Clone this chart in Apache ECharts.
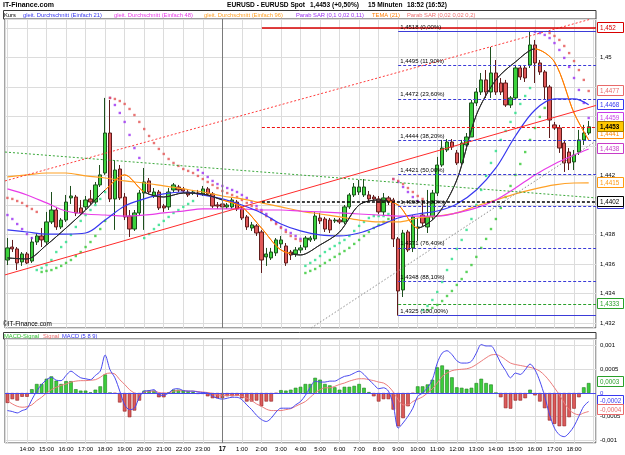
<!DOCTYPE html>
<html><head><meta charset="utf-8">
<script src="https://cdn.jsdelivr.net/npm/echarts@6.0.0/dist/echarts.min.js"></script>
<style>html,body{margin:0;padding:0;background:#fff;}#chart{width:625px;height:455px;}</style>
</head><body><div id="chart"></div>
<script>
// ---------------- data ----------------
const startMinutes = 13 * 60;      // first candle 13:00
const candleMinutes = 15;
const candleCount = 120;
const dayLabel = '17';

// [open, close, low, high]
const candles = [
[1.43627,1.43709,1.43593,1.43776],[1.43715,1.43702,1.43681,1.43763],[1.43702,1.43607,1.43559,1.43715],[1.43614,1.43668,1.43587,1.43681],
[1.43668,1.43607,1.436,1.43681],[1.4362,1.43749,1.43607,1.43783],[1.43749,1.4379,1.43729,1.4381],[1.4379,1.43763,1.43715,1.43844],
[1.43749,1.43885,1.43729,1.43953],[1.43885,1.43966,1.43871,1.44088],[1.43966,1.43851,1.43831,1.43987],[1.43851,1.43898,1.43837,1.43912],
[1.43898,1.4402,1.43885,1.44068],[1.44048,1.44061,1.44007,1.44129],[1.44054,1.43946,1.43925,1.44068],[1.4398,1.43946,1.43932,1.44034],
[1.43987,1.44034,1.43966,1.44061],[1.44041,1.4402,1.44,1.44102],[1.4402,1.44136,1.44007,1.44156],[1.44136,1.44204,1.44122,1.44271],
[1.44217,1.44488,1.44204,1.44726],[1.44488,1.44041,1.4402,1.44712],[1.44041,1.44237,1.43831,1.44305],[1.44244,1.44048,1.44034,1.44271],
[1.44054,1.43919,1.43898,1.44081],[1.43925,1.43837,1.43783,1.43966],[1.43837,1.43946,1.43824,1.43966],[1.43946,1.44081,1.43932,1.44102],
[1.44081,1.44156,1.43831,1.44251],[1.44163,1.44088,1.44075,1.44183],[1.44061,1.44088,1.44048,1.44115],[1.44088,1.4398,1.43966,1.44102],
[1.43993,1.4398,1.43953,1.44007],[1.43987,1.44088,1.43966,1.44115],[1.44102,1.44136,1.44088,1.44149],[1.44122,1.44102,1.44088,1.44136],
[1.44109,1.44095,1.44081,1.44122],[1.44088,1.44068,1.44054,1.44102],[1.44081,1.44088,1.44068,1.44102],[1.44081,1.44075,1.44054,1.44102],
[1.44075,1.44109,1.44061,1.44129],[1.44109,1.44075,1.44061,1.44122],[1.44075,1.43993,1.4398,1.44088],[1.44,1.43993,1.43973,1.4402],
[1.44007,1.43987,1.43973,1.4402],[1.43987,1.44,1.43973,1.44014],[1.43987,1.44034,1.43973,1.44048],[1.4402,1.43973,1.43959,1.44034],
[1.43973,1.43912,1.43898,1.43987],[1.43919,1.43851,1.43831,1.43932],[1.43844,1.43865,1.43824,1.43885],[1.43858,1.4381,1.4379,1.43871],
[1.43817,1.43627,1.43539,1.43831],[1.43648,1.43668,1.43587,1.43709],[1.43641,1.43681,1.43627,1.43709],[1.43675,1.43763,1.43654,1.43776],
[1.43736,1.43763,1.43709,1.4379],[1.43722,1.43607,1.43587,1.43742],[1.43681,1.43661,1.43627,1.43695],[1.43668,1.43695,1.43648,1.43715],
[1.43695,1.43709,1.43675,1.43729],[1.43715,1.43776,1.43695,1.4379],[1.43763,1.43776,1.43749,1.4379],[1.4377,1.43925,1.43756,1.43953],
[1.43912,1.43892,1.43871,1.43946],[1.43905,1.43837,1.43817,1.43919],[1.43898,1.43831,1.4381,1.43912],[1.43892,1.43898,1.43878,1.43912],
[1.43898,1.43885,1.43871,1.43912],[1.43885,1.43987,1.43871,1.44],[1.43987,1.44068,1.43973,1.44081],[1.44068,1.44122,1.44054,1.44149],
[1.44088,1.44122,1.44068,1.4417],[1.44068,1.44122,1.44054,1.44176],[1.44068,1.44041,1.44027,1.44095],[1.44054,1.44041,1.44027,1.44068],
[1.44041,1.43953,1.43939,1.44061],[1.43953,1.44048,1.43932,1.44081],[1.44048,1.44027,1.44,1.44061],[1.44034,1.4377,1.43715,1.44048],
[1.4377,1.43417,1.4325,1.43783],[1.43424,1.4381,1.43376,1.43831],[1.43817,1.43695,1.43681,1.43831],[1.43709,1.43919,1.43681,1.43932],
[1.43844,1.43851,1.43756,1.43912],[1.43932,1.43878,1.43858,1.44034],[1.43851,1.43919,1.4381,1.44102],[1.43919,1.44081,1.43898,1.44102],
[1.44081,1.44271,1.44061,1.44326],[1.44271,1.44386,1.44258,1.44441],[1.44373,1.44427,1.44359,1.44447],[1.44427,1.44393,1.44373,1.44447],
[1.44353,1.44285,1.44271,1.44373],[1.44285,1.4442,1.44271,1.44441],[1.44407,1.44461,1.44393,1.44488],[1.44461,1.44692,1.44461,1.44712],
[1.44692,1.44766,1.44671,1.44793],[1.44766,1.44848,1.44746,1.44895],[1.44848,1.44766,1.44726,1.44915],[1.44766,1.44895,1.44726,1.45071],
[1.44895,1.44766,1.44746,1.44983],[1.44827,1.44766,1.44746,1.44861],[1.44827,1.44678,1.44665,1.44848],[1.44678,1.44726,1.44658,1.44739],
[1.44726,1.44929,1.44712,1.44949],[1.44929,1.44868,1.44848,1.44949],[1.44929,1.44861,1.44834,1.44943],[1.44949,1.45085,1.44929,1.4518],
[1.45085,1.44963,1.44827,1.45119],[1.44963,1.44902,1.44882,1.44983],[1.44902,1.448,1.44712,1.44915],[1.448,1.44576,1.44454,1.44814],
[1.44543,1.44522,1.44509,1.44563],[1.44522,1.44386,1.44353,1.44543],[1.4442,1.44285,1.44224,1.44441],[1.44359,1.44285,1.44237,1.44386],
[1.44292,1.44339,1.44237,1.44373],[1.44359,1.44441,1.44339,1.44509],[1.44441,1.44488,1.44407,1.44543],[1.44488,1.4453,1.44475,1.4457]
];

// Parabolic SAR (0,1 0,02 0,11)
const sar1 = [1.43932,1.43905,1.43871,1.43837,1.43803,1.43776,
1.43559,1.43573,1.43593,1.43627,1.43681,1.43715,1.43749,1.43797,1.43851,1.43892,1.43932,1.43966,1.44,1.44041,1.44088,
1.44726,1.44678,1.44624,1.44563,1.44475,1.44386,1.44319,
1.43776,1.43803,1.43837,1.43865,1.43892,1.43919,1.43946,1.43966,1.43987,1.44007,1.44027,
1.44237,1.44217,1.4419,1.44163,1.44142,1.44129,1.44115,1.44102,1.44088,1.44068,1.44048,1.4402,1.43993,1.43966,1.43939,1.43905,1.43878,1.43851,1.43831,1.4381,1.4379,1.4377,
1.43587,1.43607,1.43627,1.43654,1.43681,1.43702,1.43722,1.43742,1.43763,1.4379,1.43824,1.43858,1.43885,1.43912,1.43925,1.43925,1.43925,1.43939,
1.44176,1.44156,1.44122,1.44088,1.44054,1.44027,
1.43288,1.43315,1.43356,1.4341,1.43478,1.43559,1.43634,1.43702,1.43763,1.43831,1.43905,1.44,1.44102,1.44197,1.44285,1.44366,1.44441,1.44502,1.44563,1.44624,1.44685,1.44739,1.44793,
1.45173,1.45166,1.45153,1.45132,1.45098,1.45051,1.44997,1.44936,1.44861,1.4478,1.44692,1.4459];

// Parabolic SAR (0,02 0,02 0,2)
const sar2 = [1.44048,1.44041,1.44027,1.44014,1.43993,1.43973,1.43953,
1.43546,1.43553,1.43559,1.43573,1.43587,1.43607,1.43627,1.43654,1.43681,1.43715,1.43749,1.4379,1.43837,1.43892,
1.44726,1.44719,1.44705,1.44685,1.44651,1.4461,1.44563,1.44515,1.44468,1.4442,1.4438,1.44346,1.44312,1.44285,1.44265,1.44244,1.44231,1.44217,1.44197,1.44176,
1.44156,1.44136,1.44115,1.44095,1.44081,1.44068,1.44054,1.44034,1.44014,1.43993,1.43973,1.43953,1.43925,1.43898,1.43871,1.43844,1.43817,1.4379,1.4377,1.43756,
1.43539,1.43553,1.43566,1.43587,1.43607,1.43627,1.43648,1.43668,1.43688,1.43709,1.43736,1.43763,1.4379,1.43817,1.43844,1.43865,1.43885,1.43905,
1.44176,1.44163,1.44142,1.44115,1.44088,1.44061,1.44041,
1.43288,1.43302,1.43322,1.43349,1.43383,1.43417,1.43458,1.43498,1.43546,1.43593,1.43648,1.43709,1.4377,1.43837,1.43905,1.4398,1.44054,1.44129,1.44204,1.44278,1.44359,1.44441,1.44522,1.44597,1.44658,
1.45166,1.45146,1.45119,1.45078,1.4503,1.44976,1.44915,1.44848,1.44773];

// moving averages, read at these candle indices
const maIdx = [0,4,8,12,16,20,24,28,32,36,40,44,48,52,56,60,64,68,72,76,80,84,88,92,96,100,104,108,112,116,119];
const sma21 = [1.43831,1.43817,1.43803,1.43803,1.4381,1.43898,1.43993,1.44041,1.44075,1.44088,1.44068,1.44041,1.44,1.43946,1.43871,1.43824,1.43797,1.4379,1.4381,1.43858,1.43912,1.43939,1.43959,1.44007,1.44102,1.44251,1.44468,1.44644,1.44719,1.44719,1.4468];
const sma48 = [1.44109,1.44068,1.44014,1.43959,1.43939,1.43932,1.43925,1.43932,1.43946,1.43959,1.43973,1.43973,1.43973,1.43966,1.43966,1.43959,1.43953,1.43946,1.43939,1.43932,1.43925,1.43925,1.43925,1.43946,1.4398,1.44034,1.44115,1.44204,1.44278,1.44339,1.4438];
const sma96 = [1.4419,1.44204,1.44217,1.44217,1.44197,1.44183,1.44163,1.44149,1.44129,1.44109,1.44088,1.44061,1.44041,1.44014,1.43987,1.43959,1.43939,1.43919,1.43898,1.43885,1.43885,1.43912,1.43925,1.43946,1.43993,1.44034,1.44075,1.44109,1.44136,1.44149,1.4415];
const tema = [1.43641,1.43634,1.43729,1.43844,1.43966,1.44102,1.44204,1.44088,1.44054,1.44081,1.44075,1.44034,1.43987,1.43844,1.43695,1.43661,1.43729,1.43817,1.44,1.44034,1.44,1.43844,1.43932,1.4417,1.4461,1.44848,1.4497,1.45058,1.4497,1.44624,1.4444];
const temaTurns = [20,28,44,58,78,84,108];   // indices where the TEMA line changes colour

// MACD (5 8 9)
const macdHist = [-0.00021,-0.00013,-0.00016,-0.00008,-0.00008,0.00008,0.00019,0.00019,0.0003,0.00035,0.00026,0.00019,0.00025,0.00025,0.00008,0.00005,0.00005,0.00001,0.00007,0.00014,
0.00039,0,-0.00001,-0.0002,-0.00039,-0.00051,-0.00037,-0.00016,0.00005,0.00005,0.00005,-0.00009,-0.00009,0.00001,0.00007,0.00007,0.00005,0.00004,0.00002,-0.00002,
-0.00002,-0.00007,-0.00011,-0.00011,-0.00011,-0.00007,-0.00007,-0.00006,-0.00011,-0.00018,-0.00018,-0.00016,-0.00028,-0.00018,-0.00018,-0.00001,0.00006,0.00005,0.00007,0.00011,
0.00013,0.00019,0.00019,0.00032,0.00028,0.00019,0.00016,0.00012,0.00007,0.00013,0.00013,0.00015,0.00019,0.00011,0.00002,-0.00007,-0.00018,-0.00013,-0.00013,-0.00035,
-0.0007,-0.00053,-0.00028,-0.00001,0.00014,0.00014,0.00018,0.00028,0.00054,0.00058,0.00049,0.00033,0.00012,0.00011,0.00009,0.00011,0.00021,0.0003,0.00021,0.00018,
0,-0.00009,-0.00032,-0.00033,-0.00016,-0.00016,-0.00011,0.00007,-0.00005,-0.00018,-0.00032,-0.00058,-0.00065,-0.0007,-0.0007,-0.00051,-0.00033,-0.00009,0.00012,0.00021];
const macdLine = [-0.00037,-0.00039,-0.00042,-0.00037,-0.00033,-0.00014,0.00004,0.00018,0.00028,0.00033,0.00027,0.00026,0.00037,0.00046,0.00039,0.00032,0.0003,0.00028,0.00037,0.00046,
0.0008,0.00049,0.00032,0.00004,-0.00025,-0.00035,-0.00032,-0.00009,0.00004,0.00005,0.00007,-0.00004,-0.00005,0,0.00008,0.00009,0.00005,0.00004,0.00004,0.00002,
0.00001,0,-0.00007,-0.00011,-0.00013,-0.00011,-0.00009,-0.00009,-0.00014,-0.00025,-0.00035,-0.00047,-0.00056,-0.0006,-0.00053,-0.0004,-0.00032,-0.00032,-0.00032,-0.00025,
-0.00018,-0.00005,0.00012,0.00025,0.00023,0.00023,0.00025,0.00025,0.0003,0.00035,0.00037,0.00042,0.00046,0.00039,0.00028,0.00018,0.00009,0.00011,0.00004,-0.00025,
-0.00074,-0.00063,-0.00049,-0.00032,-0.00007,0,0.00011,0.00028,0.00063,0.00084,0.00089,0.00081,0.00068,0.00063,0.00063,0.00067,0.00084,0.00102,0.00099,0.00099,
0.00084,0.00063,0.00047,0.00032,0.00042,0.00039,0.00049,0.00061,0.00049,0.00025,-0.00007,-0.00046,-0.00074,-0.00088,-0.00092,-0.00084,-0.0007,-0.00049,-0.00028,-0.00018];
const macdSignal = [-0.00016,-0.00023,-0.00028,-0.0003,-0.00029,-0.00025,-0.00016,-0.00009,0,0.00007,0.00012,0.00016,0.00019,0.00023,0.00025,0.00026,0.00026,0.00027,0.00028,0.00033,
0.0004,0.00042,0.0004,0.00028,0.00018,0.00007,0,-0.00002,0.00002,0.00004,0.00004,0.00001,0,0,0.00004,0.00005,0.00005,0.00004,0.00004,0.00003,
0.00002,0.00001,-0.00001,-0.00004,-0.00005,-0.00005,-0.00005,-0.00005,-0.00007,-0.00011,-0.00016,-0.00023,-0.00028,-0.00034,-0.00037,-0.00037,-0.00037,-0.00035,-0.00033,-0.00028,
-0.00023,-0.00018,-0.00009,0,0.00007,0.00011,0.00011,0.00014,0.00018,0.00021,0.00025,0.00028,0.0003,0.0003,0.00028,0.00026,0.00023,0.00021,0.00014,0.00002,
-0.00014,-0.00025,-0.00025,-0.00018,-0.00013,-0.00008,0,0.00009,0.00021,0.00035,0.00042,0.00047,0.00049,0.0005,0.00051,0.00054,0.0006,0.00067,0.00074,0.0008,
0.00081,0.00077,0.0007,0.00063,0.0006,0.00058,0.00056,0.00054,0.00051,0.00046,0.00037,0.00025,0.00011,-0.00004,-0.00021,-0.00035,-0.00043,-0.00046,-0.00042,-0.00039];

// Fibonacci retracement
const fibStartIdx = 80;
const fibPrices = [1.4518,1.4495,1.4472,1.4444,1.4421,1.4399,1.4371,1.4348,1.4325];
const fibLabels = ['1,4518 (0,00%)','1,4495 (11,90%)','1,4472 (23,60%)','1,4444 (38,20%)','1,4421 (50,00%)','1,4398 (61,80%)','1,4371 (76,40%)','1,4348 (88,10%)','1,4325 (100,00%)'];

// horizontal levels  [start index, price]
const levelHigh = [52.1, 1.4520];
const levelLast = [52.1, 1.4453];
const levelPivot = [52.1, 1.4402];
const levelLow = [80, 1.4333];
// trend lines [index, price] pairs
const trendRed = [[-0.5, 1.43526], [120.5, 1.44675]];
const trendRedDotted = [[-0.5, 1.44163], [119.4, 1.4526]];
const trendGreenDotted = [[-0.5, 1.44359], [120.5, 1.44048]];
const trendGrayDotted = [[62.2, 1.43166], [120.5, 1.44434]];

// value boxes on the right axis (drawn in this order; some are partly covered)
const boxValues = [1.4520, 1.4477, 1.4468, 1.4459, 1.4448, 1.4453, 1.4438, 1.4415, 1.4401, 1.4402, 1.4333];
const boxTexts  = ['1,452','1,4477','1,4468','1,4459','1,4441','1,4453','1,4438','1,4415','1,4398','1,4402','1,4333'];
const macdBoxValues = [0.00023, -0.00016, -0.00036];
const macdBoxTexts = ['0,0003', '-0,0002', '-0,0004'];

// ---------------- chart ----------------
const F = 'Liberation Sans, Arial, sans-serif';
const categories = [];
for (let i = 0; i <= candleCount; i++) {
  const m = startMinutes + i * candleMinutes;
  const h = Math.floor(m / 60) % 24, mm = m % 60;
  categories.push(h + ':' + (mm < 10 ? '0' : '') + mm);
}
const pairs = (xs, ys) => xs.map((x, k) => [x, ys[k]]);
const sarSide = (sar, above) => {
  const out = [];
  sar.forEach((v, i) => { if ((v > candles[i][1]) === above) out.push([i, v]); });
  return out;
};
const fmtPrice = v => v.toFixed(3).replace(/0+$/, '').replace(/\.$/, '').replace('.', ',');
const fmtMacd = v => v === 0 ? '0' : String(+v.toFixed(4)).replace('.', ',');

const C = {
  sma21: '#3838f0', sma48: '#e83ce8', sma96: '#ffa126', tema: '#ff7d00', temaUp: '#2a2a2a',
  sar1: '#9b30f2', sar1Up: '#25de86', sar2: '#e35252', sar2Up: '#35c835', fib: '#3b3bd8'
};

const seg = (a, b, style) => [{coord: a, lineStyle: style}, {coord: b}];
const overlayLines = [
  seg(trendRed[0], trendRed[1], {color: '#ff2a2a', width: 1, type: 'solid'}),
  seg(trendRedDotted[0], trendRedDotted[1], {color: '#ff3b3b', width: 1, type: [2, 2]}),
  seg(trendGreenDotted[0], trendGreenDotted[1], {color: '#3aa83a', width: 1, type: [2, 2]}),
  seg(trendGrayDotted[0], trendGrayDotted[1], {color: '#8c8c8c', width: 1, type: [1.5, 2]}),
  seg(levelHigh, [120.5, levelHigh[1]], {color: '#d80000', width: 1.5, type: 'solid'}),
  seg(levelLast, [120.5, levelLast[1]], {color: '#ee1111', width: 1, type: [3, 2]}),
  seg(levelPivot, [120.5, levelPivot[1]], {color: '#000', width: 1.5, type: [3, 2]}),
  seg(levelLow, [120.5, levelLow[1]], {color: '#2aa02a', width: 1, type: [3, 2]})
];
fibPrices.forEach((p, k) => {
  const solid = (k === 0 || k === fibPrices.length - 1);
  overlayLines.push([
    {coord: [fibStartIdx, p], name: fibLabels[k], lineStyle: {color: C.fib, width: 1, type: solid ? 'solid' : [3, 2]},
     label: {show: true, position: 'insideStartTop', formatter: '{b}', color: '#000', fontSize: 6, fontFamily: F, distance: [2, 1]}},
    {coord: [120.5, p]}
  ]);
});
overlayLines.push([{coord: [44, 1.43166], lineStyle: {color: '#7a7a7a', width: 1, type: 'solid'}}, {coord: [44, 1.45261]}]);

// TEMA colouring pieces
const temaPieces = [];
let prev = null;
[...temaTurns, null].forEach((t, k) => {
  const piece = {color: k % 2 === 0 ? C.temaUp : C.tema};
  if (prev !== null) piece.gte = prev;
  if (t !== null) piece.lt = t;
  temaPieces.push(piece);
  prev = t;
});

const histData = macdHist.map(v => ({value: v, itemStyle: v >= 0
  ? {color: '#3cce3c', borderColor: '#1c7d1c', borderWidth: 0.6}
  : {color: '#dc5a5a', borderColor: '#902020', borderWidth: 0.6}}));

const legendMain = [
  ['Kurs', '#000', 4], ['gleit. Durchschnitt (Einfach 21)', C.sma21, 23], ['gleit. Durchschnitt (Einfach 48)', C.sma48, 114],
  ['gleit. Durchschnitt (Einfach 96)', C.sma96, 204], ['Parab SAR (0,1 0,02 0,11)', C.sar1, 296], ['TEMA (21)', C.tema, 372],
  ['Parab SAR (0,02 0,02 0,2)', '#ee7070', 407]
];
const legendMacd = [['MACD-Signal', '#2fbf2f', 4], ['Signal', '#e86a6a', 43], ['MACD (5 8 9)', '#3838f0', 62]];

const graphic = [
  {type: 'text', x: 3, y: 5.5, style: {text: 'IT-Finance.com', font: 'bold 7px ' + F, fill: '#000', verticalAlign: 'middle'}},
  {type: 'text', x: 227, y: 5.5, style: {text: 'EURUSD - EURUSD Spot', font: 'bold 6.6px ' + F, fill: '#000', verticalAlign: 'middle'}},
  {type: 'text', x: 310, y: 5.5, style: {text: '1,4453 (+0,50%)', font: 'bold 6.6px ' + F, fill: '#000', verticalAlign: 'middle'}},
  {type: 'text', x: 368, y: 5.5, style: {text: '15 Minuten', font: 'bold 6.6px ' + F, fill: '#000', verticalAlign: 'middle'}},
  {type: 'text', x: 407, y: 5.5, style: {text: '18:52 (16:52)', font: 'bold 6.6px ' + F, fill: '#000', verticalAlign: 'middle'}},
  {type: 'rect', shape: {x: 3.5, y: 10.5, width: 592.5, height: 8.5}, style: {fill: '#fff', stroke: '#3a3a3a', lineWidth: 1}},
  {type: 'rect', shape: {x: 3.5, y: 332.5, width: 592.5, height: 6.5}, style: {fill: '#fff', stroke: '#3a3a3a', lineWidth: 1}},
  {type: 'text', x: 3, y: 324.5, z: 10, style: {text: '\u00A9IT-Finance.com', font: '6.4px ' + F, fill: '#000', verticalAlign: 'middle'}}
];
legendMain.forEach(([t, c, x]) => graphic.push({type: 'text', x: x, y: 15, style: {text: t, font: '5.8px ' + F, fill: c, verticalAlign: 'middle'}}));
legendMacd.forEach(([t, c, x]) => graphic.push({type: 'text', x: x, y: 336, style: {text: t, font: '5.8px ' + F, fill: c, verticalAlign: 'middle'}}));

const gridLine = {show: true, lineStyle: {color: '#dcdcdc', width: 1}};
const hidden = {axisLine: {show: false}, axisTick: {show: false}, axisLabel: {show: false}, splitLine: {show: false}};

const option = {
  animation: false,
  backgroundColor: '#fff',
  textStyle: {fontFamily: F},
  graphic: graphic,
  grid: [
    {left: 5, right: 29, top: 19, height: 309, show: true, borderColor: '#4a4a4a', borderWidth: 1, backgroundColor: '#fff'},
    {left: 5, right: 29, top: 339, height: 104, show: true, borderColor: '#4a4a4a', borderWidth: 1, backgroundColor: '#fff'}
  ],
  xAxis: [
    Object.assign({type: 'category', data: categories, gridIndex: 0, boundaryGap: true}, hidden),
    {type: 'value', gridIndex: 0, min: -0.5, max: 120.5, minInterval: 4, maxInterval: 4, axisLine: {show: false}, axisTick: {show: false}, axisLabel: {show: false}, splitLine: gridLine},
    {type: 'category', data: categories, gridIndex: 1, boundaryGap: true, axisLine: {show: false}, axisTick: {show: false}, splitLine: {show: false},
      axisLabel: {show: true, interval: (i) => i % 4 === 0 && i > 0 && i < candleCount, margin: 3, fontSize: 6, color: '#000', fontFamily: F,
        formatter: v => v === '0:00' ? '{b|' + dayLabel + '}' : v, rich: {b: {fontWeight: 'bold', fontSize: 6.5, color: '#000'}}}},
    {type: 'value', gridIndex: 1, min: -0.5, max: 120.5, minInterval: 4, maxInterval: 4, axisLine: {show: false}, axisTick: {show: false}, axisLabel: {show: false}, splitLine: gridLine}
  ],
  yAxis: [
    {type: 'value', gridIndex: 0, position: 'right', min: 1.43166, max: 1.45261, minInterval: 0.002, maxInterval: 0.002,
      axisLine: {show: false}, axisTick: {show: false}, splitLine: gridLine,
      axisLabel: {margin: 4, fontSize: 6, color: '#000', fontFamily: F, showMinLabel: false, showMaxLabel: false, formatter: fmtPrice}},
    {type: 'value', gridIndex: 1, position: 'right', min: -0.001053, max: 0.001137, minInterval: 0.0005, maxInterval: 0.0005,
      axisLine: {show: false}, axisTick: {show: false}, splitLine: gridLine,
      axisLabel: {margin: 4, fontSize: 6, fontFamily: F, showMinLabel: false, showMaxLabel: false, formatter: fmtMacd,
        color: v => (Math.abs(v) < 1e-9 ? '#3838f0' : '#000')}}
  ],
  visualMap: [{type: 'piecewise', show: false, seriesIndex: 4, dimension: 0, pieces: temaPieces}],
  series: [
    {name: 'Kurs', type: 'candlestick', xAxisIndex: 0, yAxisIndex: 0, data: candles, barWidth: 3.8,
      itemStyle: {color: '#3cd23c', color0: '#e05858', borderColor: '#1d4f1d', borderColor0: '#5e1c1c', borderWidth: 1}},
    {name: 'SMA96', type: 'line', xAxisIndex: 1, yAxisIndex: 0, data: pairs(maIdx, sma96), smooth: 0.35, symbol: 'none',
      lineStyle: {color: C.sma96, width: 1.2},
      markLine: {silent: true, symbol: ['none', 'none'], label: {show: false}, data: overlayLines, animation: false}},
    {name: 'SMA48', type: 'line', xAxisIndex: 1, yAxisIndex: 0, data: pairs(maIdx, sma48), smooth: 0.35, symbol: 'none',
      lineStyle: {color: C.sma48, width: 1.2}},
    {name: 'SMA21', type: 'line', xAxisIndex: 1, yAxisIndex: 0, data: pairs(maIdx, sma21), smooth: 0.35, symbol: 'none',
      lineStyle: {color: C.sma21, width: 1.2}},
    {name: 'TEMA', type: 'line', xAxisIndex: 1, yAxisIndex: 0, data: pairs(maIdx, tema), smooth: 0.3, symbol: 'none',
      lineStyle: {width: 1}},
    {name: 'SAR1a', type: 'scatter', xAxisIndex: 1, yAxisIndex: 0, data: sarSide(sar1, true), symbol: 'rect', symbolSize: 2.4, itemStyle: {color: C.sar1}},
    {name: 'SAR1b', type: 'scatter', xAxisIndex: 1, yAxisIndex: 0, data: sarSide(sar1, false), symbol: 'rect', symbolSize: 2.4, itemStyle: {color: C.sar1Up}},
    {name: 'SAR2a', type: 'scatter', xAxisIndex: 1, yAxisIndex: 0, data: sarSide(sar2, true), symbol: 'rect', symbolSize: 2.4, itemStyle: {color: C.sar2}},
    {name: 'SAR2b', type: 'scatter', xAxisIndex: 1, yAxisIndex: 0, data: sarSide(sar2, false), symbol: 'rect', symbolSize: 2.4, itemStyle: {color: C.sar2Up}},
    {name: 'MACD-Signal', type: 'bar', xAxisIndex: 2, yAxisIndex: 1, data: histData, barWidth: 3.6},
    {name: 'Signal', type: 'line', xAxisIndex: 2, yAxisIndex: 1, data: macdSignal, symbol: 'none', smooth: 0.3, clip: false,
      lineStyle: {color: '#ec7b7b', width: 1}},
    {name: 'MACD', type: 'line', xAxisIndex: 2, yAxisIndex: 1, data: macdLine, symbol: 'none', smooth: 0.3, clip: false,
      lineStyle: {color: '#4848f0', width: 1},
      markLine: {silent: true, symbol: ['none', 'none'], animation: false, label: {show: false},
        data: [{yAxis: 0, lineStyle: {color: '#4848f0', width: 1, type: 'solid'}}]}},
    {name: 'midnight', type: 'line', xAxisIndex: 3, yAxisIndex: 1, data: [[44, 0]], symbol: 'none', lineStyle: {opacity: 0},
      markLine: {silent: true, symbol: ['none', 'none'], label: {show: false}, animation: false,
        data: [{xAxis: 44, lineStyle: {color: '#7a7a7a', width: 1, type: 'solid'}}]}}
  ]
};
const chart = echarts.init(document.getElementById('chart'), null, {renderer: 'canvas', width: 625, height: 455});
chart.setOption(option);

// value boxes, placed through the axes' own scales
const boxColors = ['#d80000', '#e86a6a', '#3838f0', '#c83ce8', '#ff8a00', '#000', '#c83cc8', '#ff9a10', '#3b3bd8', '#000', '#2aa02a'];
const macdBoxColors = ['#2aa02a', '#3838f0', '#e86a6a'];
const boxes = [];
function addBox(py, text, col, bg, border, bold, z) {
  boxes.push({type: 'rect', z: z, shape: {x: 597.5, y: Math.round(py) - 5.5, width: 26, height: 10}, style: {fill: bg, stroke: border, lineWidth: 1}});
  boxes.push({type: 'text', z: z + 1, x: 600, y: Math.round(py) + 0.5, style: {text: text, font: (bold ? 'bold ' : '') + '6.3px ' + F, fill: col, verticalAlign: 'middle'}});
}
boxValues.forEach((v, k) => {
  const py = chart.convertToPixel({yAxisIndex: 0}, v);
  if (k === 5) addBox(py, boxTexts[k], '#000', '#ffc800', '#a07800', true, 100 + 2 * k);
  else addBox(py, boxTexts[k], boxColors[k], '#fff', boxColors[k], false, 100 + 2 * k);
});
macdBoxValues.forEach((v, k) => {
  const py = chart.convertToPixel({yAxisIndex: 1}, v);
  addBox(py, macdBoxTexts[k], macdBoxColors[k], '#fff', macdBoxColors[k], false, 150 + 2 * k);
});
chart.setOption({graphic: graphic.concat(boxes)});
</script>
</body></html>
